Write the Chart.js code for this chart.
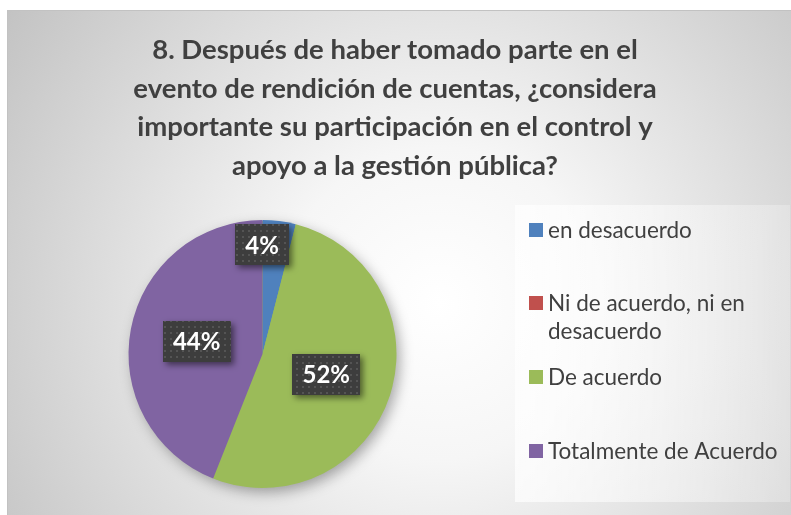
<!DOCTYPE html>
<html>
<head>
<meta charset="utf-8">
<script src="https://cdn.jsdelivr.net/npm/chart.js@4/dist/chart.umd.min.js"></script>
<style>
  html, body { margin: 0; padding: 0; width: 791px; height: 515px; overflow: hidden; background: #ffffff; }
  #frame {
    position: absolute; left: 7px; top: 10px; width: 784px; height: 505px;
    box-sizing: border-box; border-top: 1px solid #c2c2c2; border-left: 1px solid #c2c2c2;
    background: radial-gradient(circle farthest-corner at 55% 58%, #ffffff 0%, #f6f6f6 30%, #c3c3c3 100%);
  }
  #chart { position: absolute; left: 0; top: 0; }
</style>
</head>
<body>
<div id="frame"></div>
<canvas id="chart" width="791" height="515"></canvas>
<script>
// Survey question 8 — share of answers per option
const titleLines = [
  '8. Después de haber tomado parte en el',
  'evento de rendición de cuentas, ¿considera',
  'importante su participación en el control y',
  'apoyo a la gestión pública?'
];
const categories = ['en desacuerdo', 'Ni de acuerdo, ni en desacuerdo', 'De acuerdo', 'Totalmente de Acuerdo'];
const percentages = [4, 0, 52, 44];
const sliceColors = ['#4F81BD', '#C0504D', '#9BBB59', '#8064A2'];

const FONT = 'Lato, "Open Sans", sans-serif';
const TEXT_COLOR = '#404040';

// dotted dark fill for the value boxes
function makeDotPattern(ctx) {
  const c = document.createElement('canvas');
  c.width = 6; c.height = 6;
  const p = c.getContext('2d');
  p.fillStyle = '#3d3d3d';
  p.fillRect(0, 0, 6, 6);
  p.fillStyle = '#545454';
  p.fillRect(2, 2, 2, 2);
  return ctx.createPattern(c, 'repeat');
}

function wrapWords(ctx, text, maxWidth) {
  const words = text.split(' ');
  const lines = [];
  let line = '';
  for (const w of words) {
    const test = line ? line + ' ' + w : w;
    if (line && ctx.measureText(test).width > maxWidth) {
      lines.push(line);
      line = w;
    } else {
      line = test;
    }
  }
  if (line) lines.push(line);
  return lines;
}

const decorPlugin = {
  id: 'decor',
  beforeDraw(chart) {
    const ctx = chart.ctx;
    // legend panel
    ctx.save();
    const g = ctx.createLinearGradient(515, 0, 790, 0);
    g.addColorStop(0, 'rgba(255,255,255,0.7)');
    g.addColorStop(1, 'rgba(255,255,255,0.25)');
    ctx.fillStyle = g;
    ctx.fillRect(515, 205, 275, 297);
    ctx.restore();
  },
  beforeDatasetsDraw(chart) {
    // soft drop shadow under the whole pie
    const arc = chart.getDatasetMeta(0).data[0];
    const p = arc.getProps(['x', 'y', 'outerRadius'], true);
    const ctx = chart.ctx;
    ctx.save();
    ctx.shadowColor = 'rgba(0,0,0,0.35)';
    ctx.shadowBlur = 14;
    ctx.shadowOffsetX = 4;
    ctx.shadowOffsetY = 5;
    ctx.beginPath();
    ctx.arc(p.x, p.y, p.outerRadius - 1, 0, Math.PI * 2);
    ctx.fillStyle = sliceColors[2];
    ctx.fill();
    ctx.restore();
  },
  afterDatasetsDraw(chart) {
    const ctx = chart.ctx;
    const meta = chart.getDatasetMeta(0);
    const pattern = makeDotPattern(ctx);
    ctx.save();
    ctx.font = 'bold 24px ' + FONT;
    ctx.textAlign = 'center';
    ctx.textBaseline = 'middle';
    meta.data.forEach((arc, i) => {
      const v = percentages[i];
      if (!v) return;
      const p = arc.getProps(['x', 'y', 'startAngle', 'endAngle', 'outerRadius'], true);
      const mid = (p.startAngle + p.endAngle) / 2;
      const f = v < 10 ? 0.82 : 0.5;
      let cx = p.x + Math.cos(mid) * p.outerRadius * f;
      const cy = p.y + Math.sin(mid) * p.outerRadius * f;
      const label = v + '%';
      const w = ctx.measureText(label).width + 20;
      const h = 41;
      // keep a small slice's box from hanging past the rim
      if (v < 10) {
        const dy = cy - h / 2 - p.y;
        const half = Math.sqrt(Math.max(p.outerRadius * p.outerRadius - dy * dy, 0));
        cx = Math.min(cx, p.x + half - w / 2 - 8);
      }
      ctx.save();
      ctx.shadowColor = 'rgba(0,0,0,0.5)';
      ctx.shadowBlur = 6;
      ctx.shadowOffsetX = 3;
      ctx.shadowOffsetY = 3;
      ctx.fillStyle = pattern;
      ctx.fillRect(Math.round(cx - w / 2), Math.round(cy - h / 2), Math.round(w), h);
      ctx.restore();
      ctx.fillStyle = '#ffffff';
      ctx.fillText(label, cx, cy + 1);
    });
    ctx.restore();
  },
  afterDraw(chart) {
    const ctx = chart.ctx;
    ctx.save();
    // title
    ctx.fillStyle = TEXT_COLOR;
    ctx.font = 'bold 27.5px ' + FONT;
    ctx.textAlign = 'center';
    ctx.textBaseline = 'alphabetic';
    titleLines.forEach((t, i) => ctx.fillText(t, 395, 59 + i * 38.7));

    // legend
    ctx.font = '22.5px ' + FONT;
    ctx.textAlign = 'left';
    ctx.textBaseline = 'middle';
    const rowCenters = [229.5, 302.5, 376.5, 451];
    categories.forEach((c, i) => {
      const y = rowCenters[i];
      ctx.fillStyle = sliceColors[i];
      ctx.fillRect(529, Math.round(y - 7), 14, 14);
      ctx.fillStyle = TEXT_COLOR;
      const lines = wrapWords(ctx, c, 238);
      lines.forEach((ln, k) => ctx.fillText(ln, 548, y + 1 + k * 28.5));
    });
    ctx.restore();
  }
};

new Chart(document.getElementById('chart'), {
  type: 'pie',
  data: {
    labels: categories,
    datasets: [{
      data: percentages,
      backgroundColor: sliceColors,
      borderWidth: 0
    }]
  },
  options: {
    responsive: false,
    animation: false,
    layout: { padding: { left: 128, right: 394, top: 220, bottom: 27 } },
    plugins: {
      legend: { display: false },
      title: { display: false },
      tooltip: { enabled: false }
    }
  },
  plugins: [decorPlugin]
});
</script>
</body>
</html>
